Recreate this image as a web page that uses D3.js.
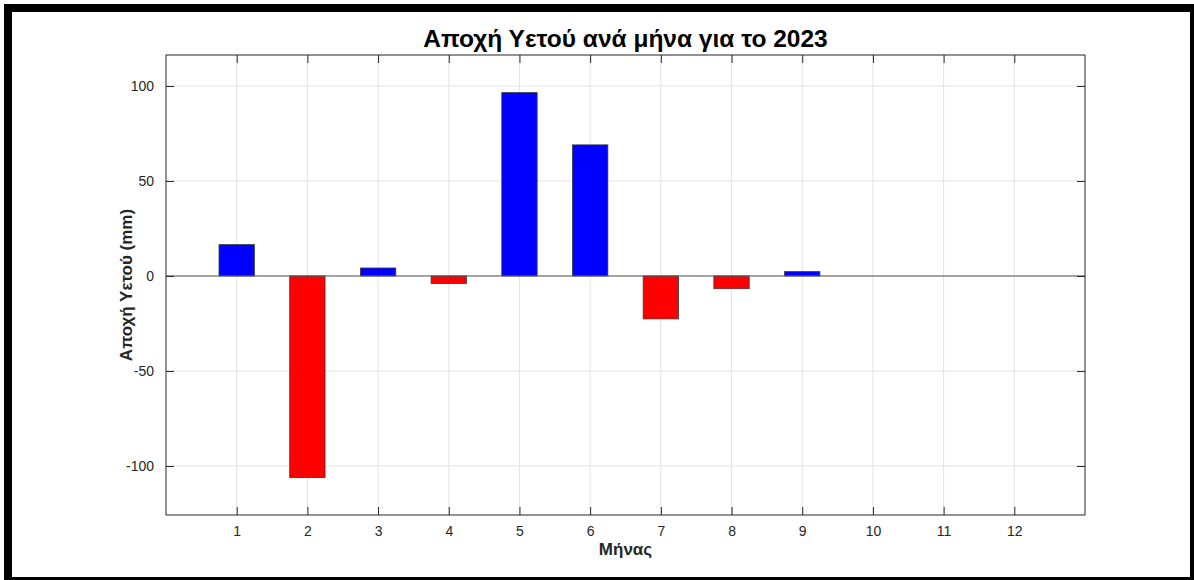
<!DOCTYPE html>
<html>
<head>
<meta charset="utf-8">
<script src="https://cdn.jsdelivr.net/npm/d3@7"></script>
<style>
  html, body { margin: 0; padding: 0; background: #fff; }
  svg { display: block; font-family: "Liberation Sans", Arial, sans-serif; }
</style>
</head>
<body>
<svg id="chart" width="1194" height="580"></svg>
<script>
const months = [1, 2, 3, 4, 5, 6, 7, 8, 9, 10, 11, 12];
const anomaly = [16.5, -106.1, 4.2, -4.0, 96.5, 69.0, -22.6, -6.7, 2.3, null, null, null];
const yTicks = [-100, -50, 0, 50, 100];
const titleText = "Αποχή Υετού ανά μήνα για το 2023";
const xLabelText = "Μήνας";
const yLabelText = "Αποχή Υετού (mm)";

const svg = d3.select("#chart");
const W = 1194, H = 580;
const m = { left: 166, top: 55, right: 1085, bottom: 515 };

svg.append("rect").attr("width", W).attr("height", H).attr("fill", "#fff");

const x = d3.scaleLinear().domain([0, 13]).range([m.left, m.right]);
const y = d3.scaleLinear().domain([-125.8, 116.3]).range([m.bottom, m.top]);

// grid
const grid = svg.append("g");
grid.selectAll("line.gx").data(months).join("line")
  .attr("x1", d => x(d)).attr("x2", d => x(d))
  .attr("y1", m.top).attr("y2", m.bottom)
  .attr("stroke", "#e3e3e3").attr("stroke-width", 1);
grid.selectAll("line.gy").data(yTicks).join("line")
  .attr("y1", d => y(d)).attr("y2", d => y(d))
  .attr("x1", m.left).attr("x2", m.right)
  .attr("stroke", "#e3e3e3").attr("stroke-width", 1);

// bars
const bw = 0.5;
const data = months.map((mo, i) => ({ mo, v: anomaly[i] })).filter(d => d.v !== null);
svg.append("g").selectAll("rect").data(data).join("rect")
  .attr("x", d => x(d.mo - bw / 2))
  .attr("width", d => x(d.mo + bw / 2) - x(d.mo - bw / 2))
  .attr("y", d => y(Math.max(0, d.v)))
  .attr("height", d => Math.abs(y(d.v) - y(0)))
  .attr("fill", d => d.v >= 0 ? "#0000ff" : "#ff0000")
  .attr("stroke", "#3a3a3a").attr("stroke-width", 0.8);

// zero line
svg.append("line")
  .attr("x1", m.left).attr("x2", m.right)
  .attr("y1", y(0)).attr("y2", y(0))
  .attr("stroke", "#555").attr("stroke-width", 1);

// axes (ticks inward)
const axisColor = "#262626";
const tickLen = 8;
const fmt = d => String(d);
const xb = d3.axisBottom(x).tickValues(months).tickSize(-tickLen).tickPadding(tickLen + 3).tickFormat(fmt);
const xt = d3.axisTop(x).tickValues(months).tickSize(-tickLen).tickFormat("");
const yl = d3.axisLeft(y).tickValues(yTicks).tickSize(-tickLen).tickPadding(tickLen + 4).tickFormat(fmt);
const yr = d3.axisRight(y).tickValues(yTicks).tickSize(-tickLen).tickFormat("");

function style(g) {
  g.select(".domain").remove();
  g.selectAll(".tick line").attr("stroke", axisColor);
  g.selectAll(".tick text").attr("fill", "#262626").style("font-size", "14px")
    .style("font-family", "'Liberation Sans', Arial, sans-serif");
}
svg.append("g").attr("transform", `translate(0,${m.bottom})`).call(xb).call(style);
svg.append("g").attr("transform", `translate(0,${m.top})`).call(xt).call(style);
svg.append("g").attr("transform", `translate(${m.left},0)`).call(yl).call(style);
svg.append("g").attr("transform", `translate(${m.right},0)`).call(yr).call(style);

// box
svg.append("rect")
  .attr("x", m.left).attr("y", m.top)
  .attr("width", m.right - m.left).attr("height", m.bottom - m.top)
  .attr("fill", "none").attr("stroke", axisColor).attr("stroke-width", 1);

// title & labels
svg.append("text").attr("x", (m.left + m.right) / 2).attr("y", 47)
  .attr("text-anchor", "middle").style("font-size", "24.5px").style("font-weight", "bold")
  .attr("fill", "#000").text(titleText);
svg.append("text").attr("x", (m.left + m.right) / 2).attr("y", 555)
  .attr("text-anchor", "middle").style("font-size", "17px").style("font-weight", "bold")
  .attr("fill", "#262626").text(xLabelText);
svg.append("text")
  .attr("transform", `translate(132,${(m.top + m.bottom) / 2}) rotate(-90)`)
  .attr("text-anchor", "middle").style("font-size", "17px").style("font-weight", "bold")
  .attr("fill", "#262626").text(yLabelText);

// outer frame
svg.append("rect").attr("x", 8).attr("y", 8).attr("width", W - 8).attr("height", 573)
  .attr("fill", "none").attr("stroke", "#000").attr("stroke-width", 8);
</script>
</body>
</html>
